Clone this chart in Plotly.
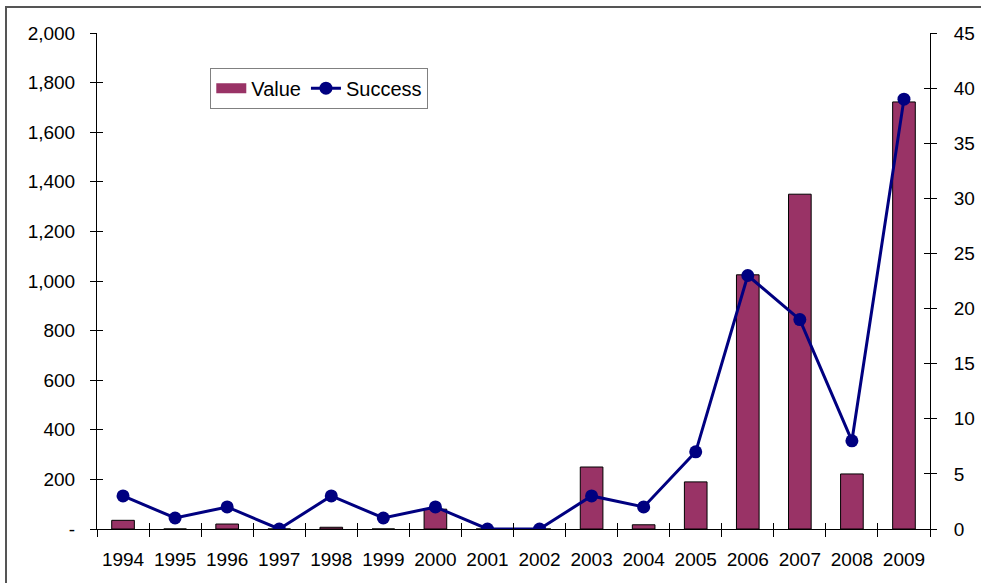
import plotly.graph_objects as go

years = [1994, 1995, 1996, 1997, 1998, 1999, 2000, 2001, 2002, 2003, 2004, 2005, 2006, 2007, 2008, 2009]
value = [35, 0, 20, 0, 7, 0, 80, 0, 0, 250, 17, 190, 1025, 1350, 222, 1722]
success = [3, 1, 2, 0, 3, 1, 2, 0, 0, 3, 2, 7, 23, 19, 8, 39]

left_ticks = [0, 200, 400, 600, 800, 1000, 1200, 1400, 1600, 1800, 2000]
left_text = ["-"] + [f"{v:,}" for v in left_ticks[1:]]
right_ticks = [0, 5, 10, 15, 20, 25, 30, 35, 40, 45]

cats = [str(y) for y in years]
BAR_COLOR = "#993366"
LINE_COLOR = "#000080"
FONT = dict(family="Liberation Sans, Arial, sans-serif", size=19, color="black")
LEG_FONT = dict(family="Liberation Sans, Arial, sans-serif", size=20, color="black")

fig = go.Figure()
# legend-only swatch for the bars (wide rectangle like the reference)
fig.add_trace(go.Scatter(x=[None], y=[None], name="Value", mode="lines",
                         line=dict(color=BAR_COLOR, width=12), hoverinfo="skip",
                         xaxis="x", yaxis="y"))
fig.add_trace(go.Bar(x=cats, y=value, name="Value", showlegend=False,
                     marker=dict(color=BAR_COLOR, line=dict(color="black", width=1)),
                     xaxis="x", yaxis="y"))
fig.add_trace(go.Scatter(x=cats, y=success, name="Success", mode="lines+markers",
                         line=dict(color=LINE_COLOR, width=3),
                         marker=dict(color=LINE_COLOR, size=13),
                         xaxis="x", yaxis="y2"))
# empty helper traces so the inside-tick overlay axes get drawn
for xa, ya in [("x2", "y"), ("x", "y3"), ("x", "y4")]:
    fig.add_trace(go.Scatter(x=cats, y=[None] * len(cats), mode="lines", showlegend=False,
                             hoverinfo="skip", xaxis=xa, yaxis=ya))

common_off = dict(showgrid=False, zeroline=False)
fig.update_layout(
    width=981, height=583,
    margin=dict(l=97, r=51, t=33, b=54),
    paper_bgcolor="white", plot_bgcolor="white",
    font=FONT,
    bargap=0.565,
    showlegend=True,
    legend=dict(orientation="h", x=0.136, y=0.93, xanchor="left", yanchor="top",
                bgcolor="white", bordercolor="#808080", borderwidth=1,
                font=LEG_FONT, itemwidth=30, traceorder="normal"),
    xaxis=dict(type="category", categoryorder="array", categoryarray=cats,
               range=[-0.5, len(cats) - 0.5], tickson="boundaries", tickangle=0,
               ticks="outside", ticklen=7, tickcolor="black", tickwidth=1,
               showline=True, linecolor="black", linewidth=1, automargin=False,
               ticklabelstandoff=13, anchor="y", **common_off),
    xaxis2=dict(type="category", categoryorder="array", categoryarray=cats,
                range=[-0.5, len(cats) - 0.5], tickson="boundaries", tickangle=0,
                overlaying="x", anchor="y", side="bottom",
                ticks="inside", ticklen=6, tickcolor="black", tickwidth=1,
                showticklabels=False, showline=False, **common_off),
    yaxis=dict(range=[0, 2000], tickvals=left_ticks, ticktext=left_text,
               ticks="outside", ticklen=6, tickcolor="black", tickwidth=1,
               showline=True, linecolor="black", linewidth=1, automargin=False,
               ticklabelstandoff=11, **common_off),
    yaxis2=dict(range=[0, 45], tickvals=right_ticks, overlaying="y", side="right",
                ticks="outside", ticklen=6, tickcolor="black", tickwidth=1,
                showline=True, linecolor="black", linewidth=1, automargin=False,
                ticklabelstandoff=13, **common_off),
    yaxis3=dict(range=[0, 2000], tickvals=left_ticks, overlaying="y", side="left",
                ticks="inside", ticklen=6, tickcolor="black", tickwidth=1,
                showticklabels=False, showline=False, **common_off),
    yaxis4=dict(range=[0, 45], tickvals=right_ticks, overlaying="y", side="right",
                ticks="inside", ticklen=6, tickcolor="black", tickwidth=1,
                showticklabels=False, showline=False, **common_off),
)

# outer chart-area border (partially cropped in the reference)
fig.add_shape(type="rect", xref="paper", yref="paper",
              x0=(6 - 97) / 833, x1=1.2, y0=-0.2, y1=(529 - 7) / 496,
              line=dict(color="#555555", width=2), fillcolor="rgba(0,0,0,0)", layer="below")

fig.write_html("out.html")
